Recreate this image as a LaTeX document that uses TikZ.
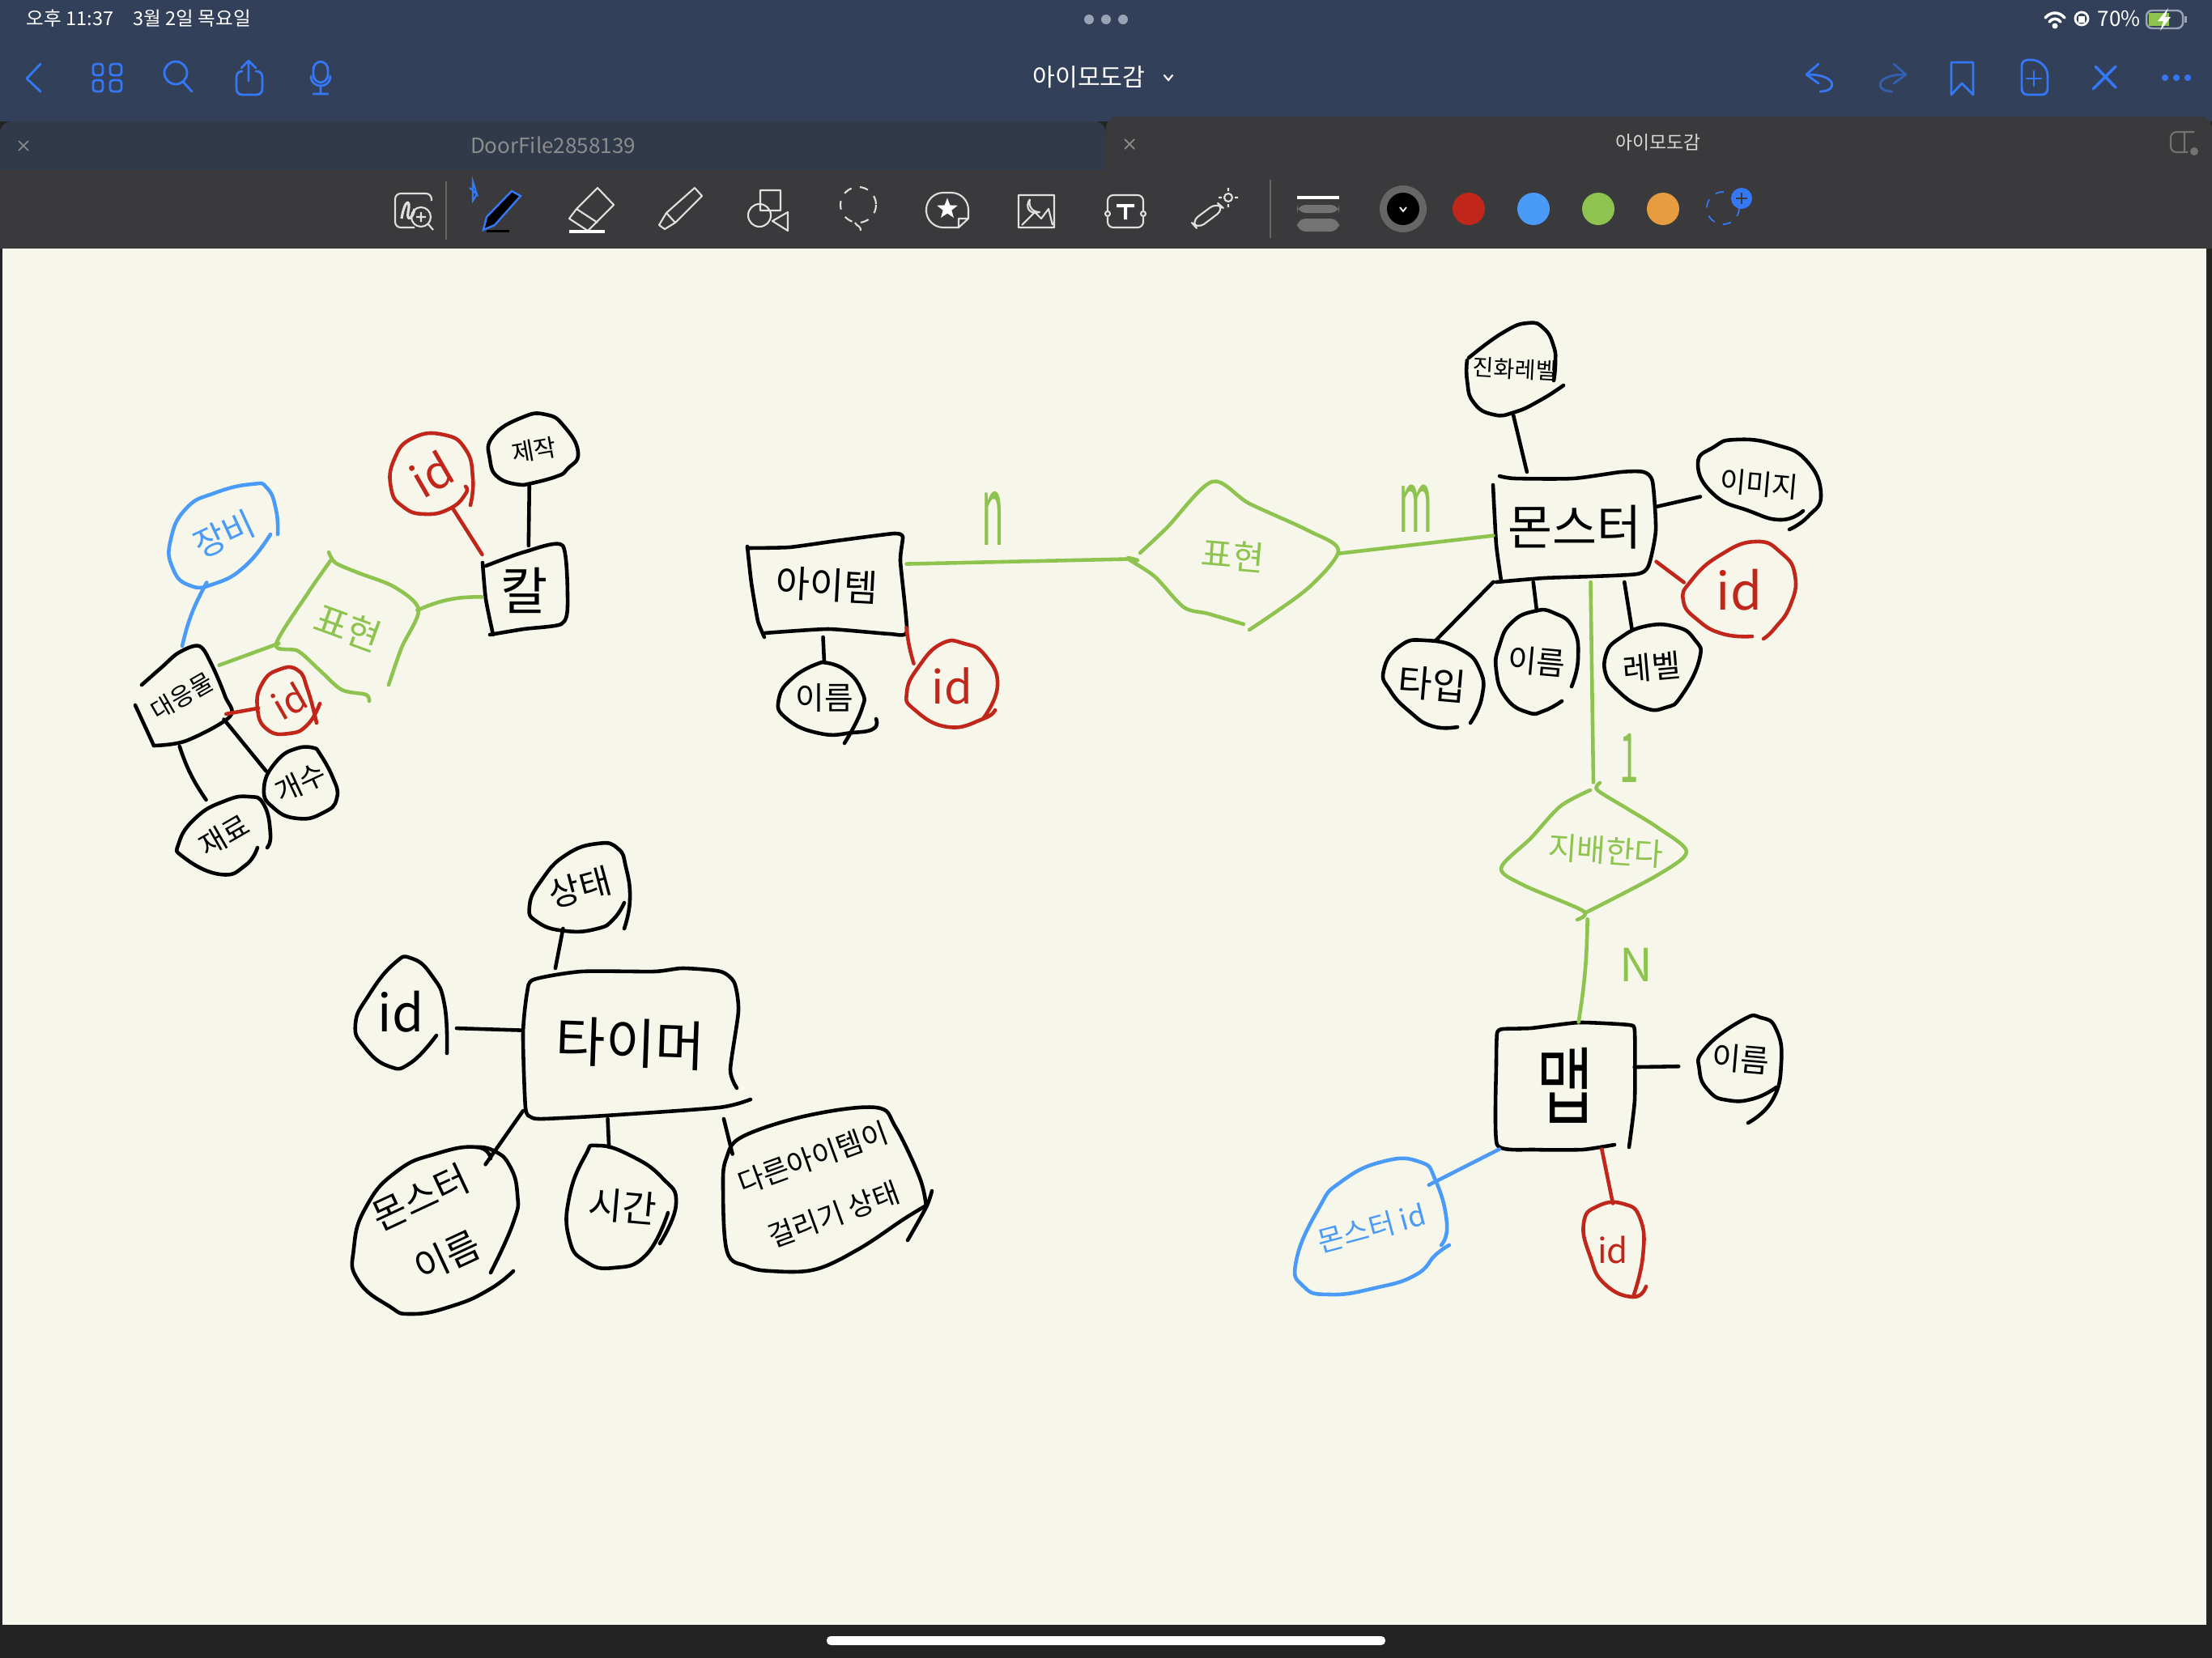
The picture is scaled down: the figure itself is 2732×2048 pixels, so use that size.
\documentclass[tikz,border=0pt]{standalone}
\usepackage{fontspec}
\setmainfont{Noto Sans CJK KR}
\usetikzlibrary{shapes.geometric}
\definecolor{barblue}{HTML}{334059}
\definecolor{tabblue}{HTML}{313A4A}
\definecolor{toolgrey}{HTML}{3A3A3C}
\definecolor{pagecream}{HTML}{F6F7EA}
\definecolor{uiblue}{HTML}{3478F6}
\definecolor{dotgrey}{HTML}{9AA3B5}
\definecolor{penred}{HTML}{C0271A}
\definecolor{penblue}{HTML}{4A9BF7}
\definecolor{pengreen}{HTML}{8FC350}
\definecolor{penorange}{HTML}{E79C3F}
\newsavebox\inkbox
\newcommand{\inktext}[3]{\sbox\inkbox{\rotatebox[origin=c]{#1}{\fontsize{#2}{#2}\selectfont #3}}%
  \makebox[0pt]{\raisebox{\dimexpr(\dp\inkbox-\ht\inkbox)/2\relax}[0pt][0pt]{\usebox\inkbox}}}
\tikzset{
  inkblack/.style={black,line width=1.3pt,line cap=round,line join=round},
  inkred/.style={inkblack,draw=penred},
  inkblue/.style={inkblack,draw=penblue},
  inkgreen/.style={inkblack,draw=pengreen},
  blob/.style 2 args={ellipse,inner sep=0pt,outer sep=0pt,minimum width=#1,minimum height=#2},
  boxy/.style 2 args={rectangle,inner sep=0pt,outer sep=0pt,minimum width=#1,minimum height=#2},
  uiline/.style={draw=uiblue,line width=0.8pt,line cap=round,line join=round},
  toolline/.style={draw=white!88!black,line width=0.6pt,line join=round},
  uitext/.style={inner sep=0pt,text=white}
}
\begin{document}
\begin{tikzpicture}[x=0.01cm,y=-0.01cm]
  \useasboundingbox (0,0) rectangle (2732,2048);
  % window chrome
  \fill[toolgrey!60!black] (0,0) rectangle (2732,2048);
  \fill[barblue] (0,0) rectangle (2732,150);
  \fill[tabblue,rounded corners=4pt] (0,150) rectangle (1366,240);
  \fill[toolgrey,rounded corners=4pt] (1366,144) rectangle (2732,240);
  \fill[toolgrey] (0,210) rectangle (2732,307);
  \fill[pagecream] (3,307) rectangle (2725,2007);
  \fill[white,rounded corners=1.4pt] (1021,2021) rectangle (1711,2032);
  % status bar
  \node[uitext,anchor=west,font=\fontsize{6.7}{8}\selectfont] (clock) at (32,23) {오후 11:37\hspace{7pt}3월 2일 목요일};
  \node[uitext,font=\fontsize{7.4}{9}\selectfont] (charge) at (2617,23) {70\%};
  \fill[dotgrey] (1345,24) circle (6) (1366,24) circle (6) (1387,24) circle (6);
  \draw[white,line width=1pt,line cap=round] (2526,22) .. controls (2533,14) and (2543,14) .. (2550,22);
  \draw[white,line width=1pt,line cap=round] (2531,27) .. controls (2535,22) and (2541,22) .. (2545,27);
  \fill[white] (2538,32) circle (3.5);
  \draw[white,line width=0.8pt] (2571,23) circle (8);
  \fill[white] (2567,20) rectangle (2575,28);
  \draw[dotgrey,line width=0.7pt,rounded corners=2pt] (2651,13) rectangle (2696,35);
  \fill[pengreen] (2654,16) rectangle (2679,32);
  \fill[dotgrey] (2698,20) rectangle (2701,28);
  \fill[white] (2678,10) -- (2665,26) -- (2672,26) -- (2668,38) -- (2681,21) -- (2674,21) -- cycle;
  % top bar, left icons
  \draw[uiline] (50,79) -- (33,97) -- (50,113);
  \draw[uiline,rounded corners=1pt] (115,79) rectangle (127,93) (136,79) rectangle (150,93)
    (115,99) rectangle (127,113) (136,99) rectangle (150,113);
  \draw[uiline] (217,90) circle (14) (226,101) -- (237,113);
  \draw[uiline,rounded corners=2pt] (298,88) -- (292,88) -- (292,117) -- (324,117) -- (324,88) -- (316,88);
  \draw[uiline] (307,100) -- (307,76) (298,84) -- (307,75) -- (316,84);
  \draw[uiline,rounded corners=2.8pt] (387,76) rectangle (405,102);
  \draw[uiline] (384,94) .. controls (384,110) and (408,110) .. (408,94) (396,106) -- (396,115) (387,116) -- (405,116);
  % title
  \node[uitext,font=\fontsize{8.6}{10}\selectfont] (doctitle) at (1345,95) {아이모도감};
  \draw[white,line width=0.6pt,line cap=round] (1438,93) -- (1443,99) -- (1448,93);
  % top bar, right icons
  \draw[uiline] (2246,79) -- (2231,92) -- (2246,103);
  \draw[uiline] (2232,92) .. controls (2270,92) and (2270,113) .. (2248,113);
  \draw[uiline,draw=uiblue!55!barblue] (2339,79) -- (2354,92) -- (2339,103);
  \draw[uiline,draw=uiblue!55!barblue] (2353,92) .. controls (2315,92) and (2315,113) .. (2337,113);
  \draw[uiline] (2410,117) -- (2410,77) -- (2437,77) -- (2437,117) -- (2423,103) -- cycle;
  \draw[uiline,rounded corners=2pt] (2517,74) -- (2497,74) -- (2497,117) -- (2529,117) -- (2529,86) -- cycle;
  \draw[uiline] (2512,88) -- (2512,106) (2503,97) -- (2521,97);
  \draw[uiline,line width=1pt] (2585,110) -- (2613,82) (2588,82) -- (2613,108);
  \fill[uiblue] (2674,96) circle (4) (2688,96) circle (4) (2702,96) circle (4);
  % tabs
  \node[uitext,text=black!45!white,font=\fontsize{7.4}{9}\selectfont] (leftname) at (683,179) {DoorFile2858139};
  \node[uitext,text=white!85!black,font=\fontsize{6.5}{8}\selectfont] (rightname) at (2048,176) {아이모도감};
  \draw[black!45!white,line width=0.5pt] (23,174) -- (35,186) (35,174) -- (23,186);
  \draw[black!45!white,line width=0.5pt] (1389,172) -- (1401,184) (1401,172) -- (1389,184);
  \draw[black!55!white,line width=0.6pt,rounded corners=2pt] (2710,163) -- (2681,163) -- (2681,188) -- (2702,188) (2698,163) -- (2698,188);
  \fill[black!55!white] (2710,187) circle (5);
  % tool bar
  \draw[toolline,rounded corners=2pt] (533,248) -- (533,239) -- (488,239) -- (488,281) -- (512,281);
  \draw[toolline,line width=0.9pt] (496,270) .. controls (500,245) and (508,245) .. (504,262) .. controls (502,275) and (510,270) .. (512,258);
  \draw[toolline] (520,268) circle (12) (529,277) -- (535,284) (520,262) -- (520,274) (514,268) -- (526,268);
  \draw[black!60!white,line width=0.3pt] (551,224) -- (551,296) (1569,222) -- (1569,294);
  \draw[uiblue,line width=0.6pt] (580,232) -- (589,240) -- (584,224) -- (584,248) -- (589,240) -- (580,232);
  \filldraw[draw=uiblue,fill=black,line width=0.7pt] (597,284) -- (601,268) -- (632,236) -- (643,242) -- (611,278) -- cycle;
  \fill[black] (601,284) rectangle (629,287);
  \draw[toolline] (738,232) -- (758,253) -- (726,285) -- (703,270) -- (712,258) -- cycle (712,258) -- (738,275);
  \draw[white,line width=0.9pt] (703,286) -- (747,286);
  \draw[toolline] (858,232) -- (867,242) -- (834,275) -- (821,283) -- (814,278) -- (823,263) -- cycle (823,263) -- (834,275);
  \draw[toolline] (939,235) rectangle (964,260) (938,266) circle (14) (973,262) -- (973,285) -- (954,273) -- cycle;
  \draw[toolline,dashed] (1060,253) circle (22);
  \draw[toolline] (1056,275) .. controls (1058,280) and (1063,278) .. (1063,285);
  \draw[toolline,rounded corners=6pt] (1196,270) -- (1196,238) -- (1144,238) -- (1144,281) -- (1184,281);
  \draw[toolline] (1196,270) -- (1184,281) -- (1184,270) -- cycle;
  \node[star,star point ratio=2.4,fill=white,inner sep=0pt,minimum size=0.27cm] (stickerstar) at (1170,258) {};
  \draw[toolline] (1258,241) rectangle (1302,281) (1262,278) -- (1278,262) -- (1286,270) -- (1295,258) -- (1300,278);
  \draw[toolline] (1272,246) .. controls (1265,256) and (1272,266) .. (1284,262) .. controls (1274,262) and (1270,254) .. (1272,246);
  \draw[toolline,rounded corners=2pt] (1368,241) rectangle (1412,281);
  \fill[white] (1379,252) rectangle (1401,256) (1388,252) rectangle (1392,271);
  \fill[toolgrey] (1366,260) rectangle (1372,268) (1408,260) rectangle (1416,268);
  \draw[toolline] (1368,264) circle (3) (1412,264) circle (3);
  \draw[toolline,rounded corners=3pt] (1479,283) -- (1471,274) -- (1503,250) -- (1512,258) -- cycle;
  \draw[toolline] (1517,244) circle (5) (1517,232) -- (1517,236) (1517,252) -- (1517,256) (1505,244) -- (1509,244) (1525,244) -- (1529,244);
  \fill[white] (1602,242) rectangle (1654,246);
  \fill[black!55!white,rounded corners=3pt] (1602,253) rectangle (1654,263) (1602,270) rectangle (1654,286);
  \fill[black!60!white] (1733,258) circle (29);
  \fill[black] (1733,258) circle (20);
  \draw[white,line width=0.5pt] (1729,256) -- (1733,261) -- (1737,256);
  \fill[penred] (1814,258) circle (20);
  \fill[penblue] (1894,258) circle (20);
  \fill[pengreen] (1974,258) circle (20);
  \fill[penorange] (2054,258) circle (20);
  \draw[uiblue,dashed,line width=0.5pt] (2128,257) circle (20);
  \fill[uiblue] (2151,245) circle (13);
  \draw[toolgrey,line width=0.7pt] (2144,245) -- (2158,245) (2151,238) -- (2151,252);

  % left cluster: outlines
  \draw[inkblack] plot[smooth,tension=.55] coordinates {(175,846) (200,824) (221,806) (246,798) (261,820) (278,860) (284,885) (230,915) (190,921)};
  \draw[inkblack] (190,921) -- (167,871);
  \draw[inkblue] plot[smooth,tension=.85] coordinates {(343,660) (341,630) (330,603) (311,598) (265,609) (230,628) (211,666) (213,701) (234,723) (265,721) (303,699) (334,660)};
  \draw[inkred] plot[smooth,tension=.85] coordinates {(391,893) (380,852) (368,828) (345,827) (324,844) (318,875) (330,901) (357,906) (380,895) (395,869)};
  \draw[inkblack] plot[smooth,tension=.85] coordinates {(391,925) (368,924) (341,941) (326,974) (338,998) (368,1011) (399,1004) (416,986) (410,958) (391,925)};
  \draw[inkblack] plot[smooth,tension=.85] coordinates {(330,1047) (334,1030) (326,994) (307,984) (276,990) (242,1010) (221,1041) (227,1059) (272,1080) (303,1069) (318,1047)};
  \draw[inkgreen] plot[smooth,tension=.5] coordinates {(406,682) (414,695) (441,707) (487,725) (517,753) (496,800) (480,846)};
  \draw[inkgreen] plot[smooth,tension=.5] coordinates {(410,690) (380,733) (341,796) (368,804) (395,828) (422,852) (452,858) (456,866)};
  \draw[inkblack] plot[smooth,tension=.4] coordinates {(596,695) (600,740) (609,784)};
  \draw[inkblack] plot[smooth,tension=.4] coordinates {(600,699) (647,682) (695,674) (701,749) (693,771) (647,777) (605,784)};
  \draw[inkred] plot[smooth,tension=.85] coordinates {(581,624) (584,591) (575,555) (548,537) (510,541) (487,567) (483,603) (498,626) (525,635) (556,628) (575,610) (575,601)};
  \draw[inkblack] plot[smooth,tension=.85] coordinates {(647,599) (617,591) (605,567) (609,539) (644,516) (674,512) (697,527) (714,559) (701,579) (686,589) (647,599)};
  % left cluster: nodes
  \node[blob={1.16cm}{1.24cm}] (subst) at (225,860) {\inktext{30}{8.5}{대응물}};
  \node[blob={1.32cm}{1.26cm},text=penblue] (subinfo) at (277,660) {\inktext{25}{12}{장비}};
  \node[blob={0.78cm}{0.80cm},text=penred] (subid) at (357,866) {\inktext{30}{13}{id}};
  \node[blob={0.90cm}{0.87cm}] (count) at (371,967) {\inktext{25}{10}{개수}};
  \node[blob={1.13cm}{0.96cm}] (mat) at (277,1032) {\inktext{30}{10}{재료}};
  \node[blob={1.76cm}{1.76cm},text=pengreen] (linkrel) at (430,775) {\inktext{-20}{13}{표현}};
  \node[boxy={1.05cm}{1.10cm}] (sword) at (648,729) {\inktext{0}{18}{칼}};
  \node[blob={1.01cm}{0.98cm},text=penred] (swordid) at (533,586) {\inktext{30}{16}{id}};
  \node[blob={1.09cm}{0.89cm}] (craft) at (660,556) {\inktext{10}{8.5}{제작}};
  % left cluster: connectors
  \draw[inkblue] (subinfo.250) to[bend right=8] (subst.90);
  \draw[inkgreen] (subst.40) -- (linkrel.193);
  \draw[inkgreen] (linkrel.14) to[bend left=12] (sword.189);
  \draw[inkred] (swordid.302) -- (sword.140);
  \draw[inkblack] (craft.262) -- (sword.85);
  \draw[inkred] (subid.193) -- (subst.338);
  \draw[inkblack] (subst.331) -- (count.161);
  \draw[inkblack] (subst.267) to[bend right=8] (mat.117);

  % item: outlines
  \draw[inkblack] plot[smooth,tension=.3] coordinates {(923,675) (928,720) (936,767) (944,787)};
  \draw[inkblack] plot[smooth,tension=.3] coordinates {(923,677) (975,676) (1033,668) (1104,659) (1115,663) (1112,693) (1120,780) (1099,783) (1023,777) (944,782)};
  \draw[inkblack] plot[smooth,tension=.85] coordinates {(1015,818) (982,835) (962,863) (972,888) (1013,906) (1053,905) (1079,900) (1082,888)};
  \draw[inkblack] plot[smooth,tension=.85] coordinates {(1043,918) (1064,877) (1064,853) (1043,827) (1015,818)};
  \draw[inkred] plot[smooth,tension=.85] coordinates {(1229,877) (1214,888) (1171,898) (1130,877) (1120,855) (1135,823) (1163,795) (1191,795) (1217,810) (1232,847) (1214,888)};
  \draw[inkgreen] plot[smooth,tension=.5] coordinates {(1408,683) (1441,652) (1497,595) (1543,622) (1615,655) (1653,680) (1615,727) (1543,778)};
  \draw[inkgreen] plot[smooth,tension=.5] coordinates {(1405,692) (1393,690) (1426,712) (1462,750) (1492,758) (1536,771)};
  % item: nodes
  \node[boxy={1.97cm}{1.28cm}] (item) at (1021,723) {\inktext{-3}{13}{아이템}};
  \node[blob={1.10cm}{0.88cm}] (itemname) at (1018,862) {\inktext{0}{11}{이름}};
  \node[blob={1.12cm}{1.03cm},text=penred] (itemid) at (1176,847) {\inktext{0}{16}{id}};
  \node[blob={2.60cm}{1.83cm},text=pengreen] (dropsrel) at (1523,686) {\inktext{-5}{12}{표현}};
  \node[inner sep=0pt,text=pengreen] (cardn) at (1226,640) {\inktext{0}{13}{\scalebox{1}[2.6]{n}}};
  \draw[inkgreen] (item.15) -- (dropsrel.182);
  \draw[inkblack] (item.266) -- (itemname.north);
  \draw[inkred] (item.332) to[bend right=5] (itemid.150);

  % monster: outlines
  \draw[inkblack] plot[smooth,tension=.3] coordinates {(1844,599) (1848,673) (1854,717)};
  \draw[inkblack] plot[smooth,tension=.4] coordinates {(1852,588) (1871,591) (1943,591) (2002,583) (2030,583) (2041,595) (2045,655) (2036,699) (2022,709) (1966,712) (1907,714) (1848,719)};
  \draw[inkblack] plot[smooth,tension=.85] coordinates {(1812,445) (1812,470) (1820,497) (1844,512) (1871,509) (1903,494) (1931,476)};
  \draw[inkblack] plot[smooth,tension=.85] coordinates {(1814,442) (1856,411) (1887,399) (1907,406) (1919,428) (1921,449) (1919,470)};
  \draw[inkblack] plot[smooth,tension=.85] coordinates {(2210,654) (2233,638) (2249,611) (2231,569) (2192,549) (2144,543) (2117,552) (2097,573) (2117,611) (2160,631) (2200,642) (2227,631)};
  \draw[inkred] plot[smooth,tension=.85] coordinates {(2164,786) (2128,783) (2097,766) (2079,742) (2089,717) (2124,686) (2168,669) (2200,683) (2217,711) (2211,748) (2192,776) (2178,789)};
  \draw[inkblack] plot[smooth,tension=.85] coordinates {(1800,898) (1769,897) (1741,879) (1717,853) (1709,828) (1729,798) (1761,791) (1804,802) (1828,828) (1830,862) (1816,893)};
  \draw[inkblack] plot[smooth,tension=.85] coordinates {(1941,848) (1949,814) (1943,776) (1919,757) (1895,755) (1867,769) (1852,797) (1848,828) (1860,862) (1887,880) (1907,878) (1929,866)};
  \draw[inkblack] plot[smooth,tension=.85] coordinates {(1986,802) (1982,828) (1998,853) (2030,874) (2057,874) (2077,859) (2099,814) (2093,790) (2069,774) (2030,774) (1998,790) (1986,802)};
  % monster: nodes
  \node[boxy={2.01cm}{1.36cm}] (mon) at (1945,651) {\inktext{0}{17}{몬스터}};
  \node[blob={1.19cm}{1.13cm}] (evo) at (1871,456) {\inktext{-3}{8}{진화레벨}};
  \node[blob={1.52cm}{1.11cm}] (monimg) at (2173,598) {\inktext{-5}{10}{이미지}};
  \node[blob={1.38cm}{1.20cm},text=penred] (monid) at (2148,729) {\inktext{0}{18}{id}};
  \node[blob={1.21cm}{1.07cm}] (montype) at (1769,845) {\inktext{-5}{13}{타입}};
  \node[blob={1.01cm}{1.25cm}] (monname) at (1898,817) {\inktext{-5}{11}{이름}};
  \node[blob={1.17cm}{1.00cm}] (monlv) at (2040,824) {\inktext{5}{11}{레벨}};
  \node[inner sep=0pt,text=pengreen] (cardm) at (1749,628) {\inktext{0}{13}{\scalebox{1}[2.3]{m}}};
  \node[inner sep=0pt,text=pengreen] (cardone) at (2012,936) {\inktext{0}{12}{\scalebox{1}[2]{1}}};
  \draw[inkgreen] (dropsrel.1) -- (mon.186);
  \draw[inkblack] (evo.268) -- (mon.131);
  \draw[inkblack] (mon.14) -- (monimg.192);
  \draw[inkred] (mon.337) -- (monid.172);
  \draw[inkblack] (mon.214) -- (montype.86);
  \draw[inkblack] (mon.233) -- (monname.north);
  \draw[inkblack] (mon.312) -- (monlv.118);

  % map: outlines
  \draw[inkgreen] plot[smooth,tension=.5] coordinates {(1964,976) (1927,996) (1891,1035) (1854,1072) (1881,1093) (1955,1125) (1948,1136)};
  \draw[inkgreen] plot[smooth,tension=.5] coordinates {(1976,967) (1973,976) (2010,999) (2047,1022) (2083,1052) (2047,1081) (1959,1127)};
  \draw[inkblack] plot[smooth,tension=.3] coordinates {(1994,1414) (1955,1420) (1895,1420) (1849,1414) (1848,1313) (1849,1276) (1856,1271) (1891,1270) (1950,1263) (2012,1266) (2019,1274) (2019,1359) (2012,1417)};
  \draw[inkblack] plot[smooth,tension=.85] coordinates {(2159,1387) (2189,1359) (2200,1313) (2194,1272) (2175,1257) (2152,1260) (2106,1295) (2099,1322) (2111,1348) (2134,1359) (2166,1357) (2194,1343)};
  \draw[inkblue] plot[smooth,tension=.85] coordinates {(1790,1538) (1773,1550) (1748,1575) (1698,1591) (1643,1599) (1610,1589) (1601,1557) (1629,1492) (1656,1460) (1707,1435) (1753,1435) (1773,1458) (1787,1511) (1780,1538)};
  \draw[inkred] plot[smooth,tension=.85] coordinates {(2033,1589) (2017,1602) (1982,1586) (1964,1552) (1956,1511) (1973,1490) (2005,1487) (2026,1506) (2029,1552) (2017,1602)};
  % map: nodes
  \node[blob={2.29cm}{1.69cm},text=pengreen] (rulesrel) at (1968,1051) {\hspace{0.30cm}\inktext{-4}{11}{지배한다}};
  \node[boxy={1.71cm}{1.57cm}] (map) at (1933,1341) {\inktext{0}{22}{\scalebox{1}[1.35]{맵}}};
  \node[blob={1.01cm}{1.02cm}] (mapname) at (2150,1308) {\inktext{-5}{11}{이름}};
  \node[blob={1.86cm}{1.64cm},text=penblue] (mapmon) at (1694,1517) {\inktext{15}{10}{몬스터 id}};
  \node[blob={0.73cm}{1.15cm},text=penred] (mapid) at (1992,1544) {\inktext{0}{12}{id}};
  \node[inner sep=0pt,text=pengreen] (cardN) at (2021,1192) {\inktext{0}{16}{N}};
  \draw[inkgreen] (mon.286) -- (rulesrel.north);
  \draw[inkgreen] (rulesrel.265) to[bend left=4] (map.78);
  \draw[inkblack,shorten >=0.27cm] (map.15) -- (mapname.190);
  \draw[inkblue] (map.224) -- (mapmon.37);
  \draw[inkred] (map.300) -- (mapid.north);

  % timer: outlines
  \draw[inkblack] plot[smooth,tension=.4] coordinates {(910,1344) (902,1321) (912,1249) (907,1214) (890,1200) (843,1196) (808,1200) (718,1200) (659,1210) (651,1226) (646,1277) (649,1368) (656,1380) (671,1382) (748,1378) (888,1368) (927,1358)};
  \draw[inkblack] plot[smooth,tension=.85] coordinates {(771,1147) (778,1111) (773,1071) (763,1048) (738,1042) (699,1056) (669,1087) (654,1119) (664,1139) (699,1150) (738,1147) (758,1135) (771,1115)};
  \draw[inkblack] plot[smooth,tension=.85] coordinates {(552,1301) (549,1241) (534,1206) (509,1184) (487,1190) (455,1230) (439,1265) (450,1293) (480,1317) (507,1313) (539,1279)};
  \draw[inkblack] plot[smooth,tension=.85] coordinates {(606,1431) (589,1417) (539,1425) (490,1447) (452,1491) (437,1542) (442,1581) (480,1613) (509,1623) (559,1613) (604,1593) (634,1570)};
  \draw[inkblack] plot[smooth,tension=.85] coordinates {(606,1572) (634,1510) (639,1475) (629,1439) (609,1421) (589,1417)};
  \draw[inkblack] plot[smooth,tension=.85] coordinates {(815,1536) (835,1487) (818,1455) (778,1427) (738,1415) (723,1427) (703,1479) (703,1530) (723,1558) (758,1566) (798,1550) (825,1498)};
  \draw[inkblack] plot[smooth,tension=.5] coordinates {(1121,1532) (1144,1491) (1151,1471)};
  \draw[inkblack] plot[smooth,tension=.6] coordinates {(1144,1491) (1136,1455) (1106,1392) (1082,1368) (997,1378) (917,1404) (897,1431) (893,1467) (898,1546) (922,1564) (952,1570) (1007,1568) (1062,1542) (1116,1506) (1144,1489)};
  % timer: nodes
  \node[boxy={2.66cm}{1.86cm}] (timer) at (779,1289) {\inktext{-2}{19}{타이머}};
  \node[blob={1.24cm}{1.08cm}] (tstate) at (716,1096) {\inktext{15}{12}{상태}};
  \node[blob={1.13cm}{1.33cm}] (tid) at (495,1250) {\inktext{0}{18}{id}};
  \node[blob={2.02cm}{2.06cm}] (tmon) at (538,1520) {\inktext{25}{13}{\begin{tabular}{@{}c@{}}몬스터\\[8pt]이름\end{tabular}}};
  \node[blob={1.32cm}{1.51cm}] (ttime) at (769,1490) {\inktext{-5}{13}{시간}};
  \node[blob={2.51cm}{2.02cm}] (tother) at (1018,1469) {\inktext{20}{10}{\begin{tabular}{@{}c@{}}다른아이템이\\[10pt]걸리기 상태\end{tabular}}};
  % timer: connectors
  \draw[inkblack] (tstate.248) -- (timer.135);
  \draw[inkblack,shorten <=0.15cm] (tid.340) -- (timer.173);
  \draw[inkblack] (timer.212) -- (tmon.53);
  \draw[inkblack] (timer.253) -- (ttime.103);
  \draw[inkblack] (timer.321) -- (tother.159);
\end{tikzpicture}
\end{document}
